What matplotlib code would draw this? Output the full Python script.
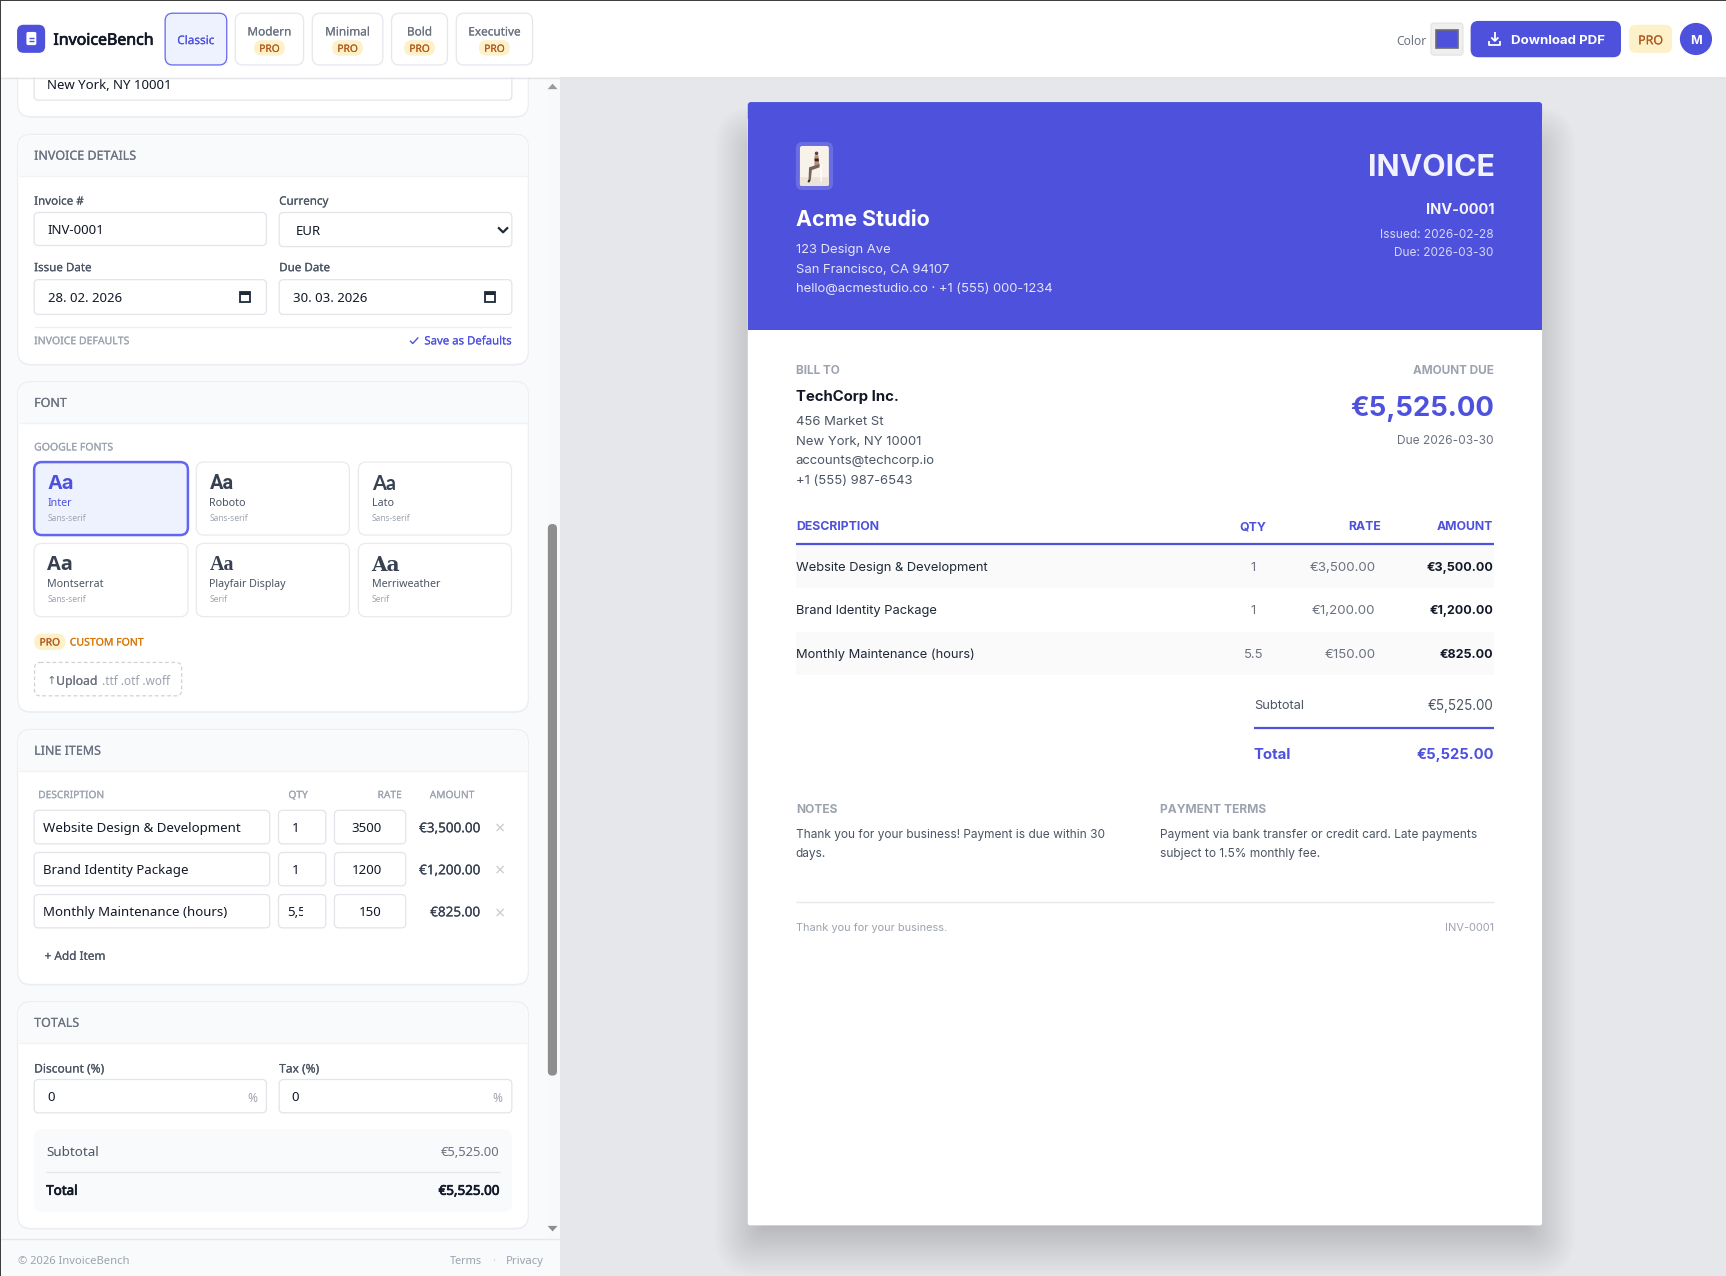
"""InvoiceBench editor screenshot redrawn with matplotlib patches and text."""

import matplotlib
matplotlib.use("Agg")
import matplotlib.pyplot as plt
import matplotlib.patheffects as pe
from matplotlib.patches import Circle, FancyBboxPatch, Polygon, Rectangle

W, H = 1568, 1159                      # layout coordinates of the page
INDIGO = "#4d51dc"
UI, DOC = "Noto Sans", "Inter"
UI_STROKE = {"medium": 0.1, "semibold": 0.3, "bold": 0.5}   # Noto Sans only has one weight here

TEMPLATES = ["Classic", "Modern", "Minimal", "Bold", "Executive"]
FONT_NAMES = ["Inter", "Roboto", "Lato", "Montserrat", "Playfair Display", "Merriweather"]
FONT_KINDS = ["Sans-serif", "Sans-serif", "Sans-serif", "Sans-serif", "Serif", "Serif"]
COLUMNS = ["DESCRIPTION", "QTY", "RATE", "AMOUNT"]
ITEM_NAMES = ["Website Design & Development", "Brand Identity Package", "Monthly Maintenance (hours)"]
ITEM_QTY = ["1", "1", "5.5"]
ITEM_QTY_INPUT = ["1", "1", "5,5"]
ITEM_RATE_INPUT = ["3500", "1200", "150"]
ITEM_RATE = ["€3,500.00", "€1,200.00", "€150.00"]
ITEM_AMOUNT = ["€3,500.00", "€1,200.00", "€825.00"]
SUBTOTAL = "€5,525.00"
TOTAL = "€5,525.00"
SENDER = ["123 Design Ave", "San Francisco, CA 94107", "hello@acmestudio.co · +1 (555) 000-1234"]
CLIENT = ["456 Market St", "New York, NY 10001", "accounts@techcorp.io", "+1 (555) 987-6543"]

fig = plt.figure(figsize=(17.26, 12.76), dpi=100)
ax = fig.add_axes([0, 0, 1, 1])
ax.set_xlim(0, W)
ax.set_ylim(H, 0)
ax.axis("off")


def box(x0, y0, x1, y1, fc="white", ec="none", r=0, lw=1, z=1, alpha=None, ls="-"):
    if r:
        p = FancyBboxPatch((x0 + r, y0 + r), x1 - x0 - 2 * r, y1 - y0 - 2 * r,
                           boxstyle=f"round,pad={r},rounding_size={r}",
                           fc=fc, ec=ec, lw=lw, zorder=z, alpha=alpha, ls=ls)
    else:
        p = Rectangle((x0, y0), x1 - x0, y1 - y0, fc=fc, ec=ec, lw=lw, zorder=z, alpha=alpha)
    ax.add_patch(p)
    return p


def txt(x, y, s, px=13, color="#111827", ha="left", weight="normal", family=UI, z=5):
    t = ax.text(x, y - 0.3, s, fontsize=px * 0.72, color=color, ha=ha, va="center_baseline",
                fontweight=weight, family=family, zorder=z)
    if family == UI and weight in UI_STROKE:
        t.set_path_effects([pe.withStroke(linewidth=UI_STROKE[weight], foreground=color)])
    return t


def line(xs, ys, color="#e5e7eb", lw=1, z=3):
    ax.plot(xs, ys, color=color, lw=lw, zorder=z, solid_capstyle="butt")


def field(x0, y0, x1, y1):
    box(x0, y0, x1, y1, ec="#e2e4e9", r=4, lw=0.9, z=3)


def pro_pill(cx, cy, w=28, h=14, px=10.5):
    box(cx - w / 2, cy - h / 2, cx + w / 2, cy + h / 2, fc="#fdf1c9", r=h / 2 - 0.01, z=4)
    txt(cx, cy, "PRO", px, "#b45a1c", ha="center", weight="medium")


def card(y0, y1, head_y, title):
    box(16, y0, 480, y1 + 1, fc="#eceef1", r=12, z=1)
    box(16, y0, 480, y1, fc="white", ec="#eceef1", lw=0.9, r=12, z=2)
    if head_y:
        box(17, y0 + 1, 479, y0 + 14, fc="#f9fafb", r=10, z=2)
        box(17, y0 + 10, 479, head_y, fc="#f9fafb", z=2)
        line([17, 479], [head_y, head_y], "#f1f2f4")
        txt(31, (y0 + head_y) / 2, title, 12.5, "#6b7280", weight="medium")


def calendar(cx, cy):
    box(cx - 4.5, cy - 4.5, cx + 4.5, cy + 5, fc="white", ec="#1f2937", lw=1.3, z=5)
    box(cx - 4.5, cy - 4.5, cx + 4.5, cy - 1.5, fc="#1f2937", z=5)


# page background, sidebar
ax.add_patch(Rectangle((0, 0), W, H, fc="#e5e7eb", ec="none", zorder=0))
box(1, 70, 509, H, fc="#f9fafb", z=0.5)
box(497, 70, 509, 1125, fc="#f8f9fa", z=0.6)

# top bar
box(0, 0, W, 70, z=8)
line([0, W], [70.5, 70.5], "#e2e4e8", 1, z=8)
line([0, W], [0.4, 0.4], "#3a3a3a", 1.4, z=9)
line([0.4, 0.4], [0, H], "#3a3a3a", 1.4, z=9)
box(15.5, 22.5, 41, 48, fc=INDIGO, r=6, z=9)
box(24, 29, 33, 41, fc="white", r=1.5, z=10)
line([26, 31], [34.5, 34.5], INDIGO, 1, z=11)
line([26, 31], [37.5, 37.5], INDIGO, 1, z=11)
txt(48.5, 35.5, "InvoiceBench", 15.9, "#111827", weight="bold", z=10)

BTN_X = [(150, 206), (213.7, 275.8), (283.7, 347.8), (355.7, 406.5), (414.5, 483.8)]
for i, (name, (x0, x1)) in enumerate(zip(TEMPLATES, BTN_X)):
    cx = (x0 + x1) / 2
    if i == 0:
        box(x0, 12, x1, 59, fc="#eef2ff", ec="#6366f1", lw=0.9, r=7, z=9)
        txt(cx, 35.8, name, 11.8, "#4f52de", ha="center", weight="medium", z=10)
    else:
        box(x0, 12, x1, 59, ec="#e5e7eb", lw=0.9, r=7, z=9)
        txt(cx, 28, name, 11.8, "#6b7280", ha="center", weight="medium", z=10)
        box(cx - 14, 36.5, cx + 14, 50.5, fc="#fdf1c9", r=6.9, z=10)
        txt(cx, 43.8, "PRO", 10.2, "#b45a1c", ha="center", weight="medium", z=11)

txt(1268, 36.3, "Color", 12, "#6b7280", z=10)
box(1300, 21, 1329, 50, fc="#efefef", ec="#e5e5e5", r=3, z=9)
box(1304.5, 27, 1324.5, 44, fc=INDIGO, ec="#6d6d6d", lw=1.2, z=10)
box(1336, 19, 1472.6, 52, fc=INDIGO, r=7, z=9)
line([1358, 1358], [29.5, 37], "white", 1.3, z=10)
line([1354.8, 1358, 1361.2], [34, 37.2, 34], "white", 1.3, z=10)
line([1353, 1353, 1363, 1363], [37.5, 40.5, 40.5, 37.5], "white", 1.3, z=10)
txt(1372.5, 35.8, "Download PDF", 13.2, "white", weight="bold", family=DOC, z=10)
box(1480, 22.5, 1519, 48, fc="#fdf1c9", r=6, z=9)
txt(1499.5, 36, "PRO", 12.4, "#b45a1c", ha="center", weight="medium", z=10)
ax.add_patch(Circle((1540.7, 35.4), 14.6, fc=INDIGO, ec="none", zorder=9))
txt(1540.7, 35.8, "M", 12.5, "white", ha="center", weight="bold", family=DOC, z=10)

# sidebar: address card (scrolled)
box(16, 40, 480, 107, fc="#eceef1", r=12, z=1)
box(16, 40, 480, 106, ec="#eceef1", lw=0.9, r=12, z=2)
box(31, 40, 465, 91, ec="#e2e4e9", lw=0.9, r=4, z=3)
txt(43, 76.5, "New York, NY 10001", 13.2)

# invoice details
card(122, 331, 159.6, "INVOICE DETAILS")
for x, s, y in [(31, "Invoice #", 182.6), (253.6, "Currency", 182.6), (31, "Issue Date", 243), (253.6, "Due Date", 243)]:
    txt(x, y, s, 11.6, "#4b5563", weight="medium")
field(31, 193, 242, 223)
field(253.6, 193, 465, 224)
field(31, 254, 242, 285.6)
field(253.6, 254, 465, 285.6)
txt(43, 208.3, "INV-0001", 13.2)
txt(268.5, 209, "EUR", 13.2)
line([452.5, 457, 461.5], [206.5, 211, 206.5], "#1f2937", 1.6, z=5)
txt(44, 270, "28. 02. 2026", 13.2)
txt(266, 270, "30. 03. 2026", 13.2)
calendar(222.5, 269.5)
calendar(445, 269.5)
line([31, 465], [297.4, 297.4], "#eef0f3")
txt(31, 309.3, "INVOICE DEFAULTS", 10.5, "#9ca3af", weight="medium")
txt(465, 309.5, "Save as Defaults", 11.4, "#4f52de", ha="right", weight="medium")
line([372.5, 375, 380], [309.5, 312, 306.5], INDIGO, 1, z=5)

# font picker
card(346.7, 646.5, 384, "FONT")
txt(31, 405.8, "GOOGLE FONTS", 10.5, "#9ca3af", weight="medium")
TILE_X = [(31, 170.7), (178.3, 317.4), (325.6, 464.7)]
TILE_Y = [(419.7, 486), (493.6, 560.2)]
AA_STYLE = [("Inter", "bold"), ("Roboto", "bold"), ("Lato", "bold"),
            ("Open Sans", "bold"), ("Liberation Serif", "bold"), ("DejaVu Serif", "bold")]
for i, (name, kind) in enumerate(zip(FONT_NAMES, FONT_KINDS)):
    x0, x1 = TILE_X[i % 3]
    y0, y1 = TILE_Y[i // 3]
    fam, wt = AA_STYLE[i]
    if i == 0:
        box(x0, y0, x1, y1, fc="#eef2ff", ec="#6366f1", lw=1.8, r=7, z=3)
    else:
        box(x0, y0, x1, y1, ec="#e8eaee", lw=0.9, r=7, z=3)
    tx = x0 + 12
    txt(tx, y0 + 18, "Aa", 20, INDIGO if i == 0 else "#374151", weight=wt, family=fam)
    txt(tx, y0 + 36.3, name, 10.7, INDIGO if i == 0 else "#4b5563")
    txt(tx, y0 + 50.3, kind, 8.4, "#9ca3af")
pro_pill(45.2, 583, 28.4, 15, 10.2)
txt(63.4, 583, "CUSTOM FONT", 10.5, "#d97706", weight="medium")
box(31.4, 601.7, 165, 632, ec="#cfd3d9", lw=0.9, r=5, ls=(0, (3, 2)), z=3)
txt(42.5, 617.8, "↑", 11.5, "#6b7280", family=[UI, "DejaVu Sans"])
txt(51, 617.8, "Upload", 12.2, "#6b7280", weight="medium")
txt(92.5, 617.8, ".ttf .otf .woff", 11.7, "#9ca3af")

# line items
card(662.6, 894.2, 700, "LINE ITEMS")
txt(34.7, 721.6, COLUMNS[0], 10.2, "#9ca3af", weight="medium")
txt(262, 721.6, COLUMNS[1], 10.2, "#9ca3af", weight="medium")
txt(365, 721.6, COLUMNS[2], 10.2, "#9ca3af", ha="right", weight="medium")
txt(390.4, 721.6, COLUMNS[3], 10.2, "#9ca3af", weight="medium")
ROW_Y = [(736, 766.5), (774.3, 804.6), (812.5, 842.8)]
for i, (y0, y1) in enumerate(ROW_Y):
    cy = (y0 + y1) / 2
    field(31, y0, 245, y1)
    field(253, y0, 296, y1)
    field(303.8, y0, 368.6, y1)
    txt(39.3, cy, ITEM_NAMES[i], 13.25)
    q = txt(265 if i < 2 else 261, cy, ITEM_QTY_INPUT[i], 13.25)
    q.set_clip_on(True)
    q.set_clip_path(Rectangle((255, y0), 20, y1 - y0, transform=ax.transData))
    txt(347, cy, ITEM_RATE_INPUT[i], 13.25, ha="right")
    txt(436, cy, ITEM_AMOUNT[i], 13.5, "#374151", ha="right", weight="medium")
    txt(454, cy + 1, "×", 18, "#c9ccd2", ha="center")
txt(40.5, 867.6, "+ Add Item", 11.8, "#4b5563", weight="medium")

# totals
card(909.9, 1115.8, 947, "TOTALS")
txt(31, 970, "Discount (%)", 12, "#4b5563", weight="medium")
txt(253.6, 970, "Tax (%)", 12, "#4b5563", weight="medium")
field(31, 980.5, 242, 1010.8)
field(253.6, 980.5, 465, 1010.8)
txt(42.6, 996, "0", 13.2)
txt(265, 996, "0", 13.2)
txt(233.5, 997, "%", 12, "#9ca3af", ha="right")
txt(456, 997, "%", 12, "#9ca3af", ha="right")
box(31, 1025.6, 465, 1100.7, fc="#f9fafb", r=8, z=3)
txt(42, 1045.8, "Subtotal", 13.4, "#4b5563")
txt(454, 1045.8, SUBTOTAL, 13, "#6b7280", ha="right")
line([42, 454], [1064.4, 1064.4], "#e5e7eb", z=4)
txt(42, 1081, "Total", 13.4, "#111827", weight="bold")
txt(454, 1081, TOTAL, 13.4, "#111827", ha="right", weight="bold")

# scrollbar and footer
box(497.7, 476, 506, 977, fc="#8e8e8e", r=4, z=6)
ax.add_patch(Polygon([(497.5, 81), (506.5, 81), (502, 76)], fc="#9a9a9a", ec="none", zorder=6))
ax.add_patch(Polygon([(497.5, 1113.5), (506.5, 1113.5), (502, 1118.5)], fc="#8e8e8e", ec="none", zorder=6))
box(1, 1125, 509, H, fc="#f9fafb", z=7)
line([1, 509], [1125, 1125], "#e5e7eb", z=8)
txt(16, 1144.6, "© 2026 InvoiceBench", 11.2, "#9ca3af", z=9)
txt(408.5, 1144.6, "Terms", 11, "#9ca3af", z=9)
txt(448.5, 1144.6, "·", 12, "#d1d5db", ha="center", z=9)
txt(494, 1144.6, "Privacy", 11.3, "#9ca3af", ha="right", z=9)

# invoice paper with soft shadow
for grow in range(46, 0, -2):
    box(679.3 - (grow - 16), 92.7 + 50 - grow, 1400.9 + (grow - 16), 1113 + grow,
        fc="black", r=max(grow * 0.8, 1), alpha=0.0075, z=0.8)
box(679.3, 92.7, 1400.9, 1113, fc="white", r=2, z=1)
box(679.3, 92.7, 1400.9, 110, fc=INDIGO, r=3, z=1.2)
box(679.3, 100, 1400.9, 299.8, fc=INDIGO, z=1.2)

# logo photo
box(723, 129, 756.8, 172.6, fc="#6a6ce3", r=6, z=2)
box(726.7, 132.6, 753, 168.8, fc="#f7f2ea", r=2, z=3)
box(726.7, 161, 753, 168.8, fc="#ece4d8", r=1, z=3.1)
line([745.5, 746, 746], [150, 156, 165], "#ffffff", 1, z=3.5)
ax.add_patch(Circle((741.8, 139.3), 1.6, fc="#5a4236", ec="none", zorder=4))
ax.add_patch(Polygon([(740, 141), (743.5, 141), (744.5, 151), (739.8, 151)], fc="#b8917c", ec="none", zorder=4))
ax.add_patch(Polygon([(740, 144), (743.7, 144), (743.8, 146.5), (740.2, 146.5)], fc="#2b2320", ec="none", zorder=4.1))
ax.add_patch(Polygon([(744.5, 149), (744.5, 152), (737.5, 154.5), (736.5, 164), (734.5, 164), (735, 152)],
                     fc="#75635a", ec="none", zorder=4))
line([735.5, 734.3], [163.5, 165.5], "#2a2321", 1.4, z=4)

txt(723, 198.4, "Acme Studio", 21.4, "white", weight="bold", family=DOC)
for y, s in zip([226, 243.8, 261.4], SENDER):
    txt(723, y, s, 13.05, "#e4e5fa", family=DOC)
txt(1358, 150, "INVOICE", 30.4, "#f2f2fd", ha="right", weight="bold", family=DOC)
txt(1357.5, 189.9, "INV-0001", 14.6, "#f6f6fe", ha="right", weight="bold", family=DOC)
txt(1357, 212.3, "Issued: 2026-02-28", 11.9, "#d5d6f7", ha="right", family=DOC)
txt(1357, 228.6, "Due: 2026-03-30", 11.9, "#d5d6f7", ha="right", family=DOC)

txt(723, 335.5, "BILL TO", 11.8, "#9ca3af", weight="bold", family=DOC)
txt(1356.8, 335.5, "AMOUNT DUE", 11.8, "#9ca3af", ha="right", weight="bold", family=DOC)
txt(723, 359.8, "TechCorp Inc.", 14.9, "#111827", weight="bold", family=DOC)
for y, s in zip([382, 400.4, 418, 435.5], CLIENT):
    txt(723, y, s, 13.1, "#4b5563", family=DOC)
txt(1357, 368.9, TOTAL, 27.5, INDIGO, ha="right", weight="bold", family=DOC)
txt(1357, 399.8, "Due 2026-03-30", 11.95, "#6b7280", ha="right", family=DOC)

txt(723.6, 477.8, COLUMNS[0], 12.3, INDIGO, weight="bold", family=DOC)
txt(1138.5, 477.8, COLUMNS[1], 12.3, INDIGO, ha="center", weight="bold", family=DOC)
txt(1255, 477.8, COLUMNS[2], 12.3, INDIGO, ha="right", weight="bold", family=DOC)
txt(1356, 477.8, COLUMNS[3], 12.3, INDIGO, ha="right", weight="bold", family=DOC)
line([723, 1357], [493.9, 493.9], INDIGO, 1.6)
box(723, 495, 1357, 533.8, fc="#fafafa", z=2)
box(723, 574.4, 1357, 613.2, fc="#fafafa", z=2)
for y, name, qty, rate, amt in zip([514.5, 553.8, 593.5], ITEM_NAMES, ITEM_QTY, ITEM_RATE, ITEM_AMOUNT):
    txt(723, y, name, 12.9, "#1f2937", family=DOC)
    txt(1138.5, y, qty, 13, "#6b7280", ha="center", family=DOC)
    txt(1249.5, y, rate, 13.3, "#6b7280", ha="right", family=DOC)
    txt(1357, y, amt, 12.5, "#111827", ha="right", weight="bold", family=DOC)
txt(1139, 639.8, "Subtotal", 12.9, "#4b5563", family=DOC)
txt(1357, 639.8, SUBTOTAL, 13.4, "#4b5563", ha="right", family=DOC)
line([1139, 1357], [661.3, 661.3], INDIGO, 1.6)
txt(1139, 684.7, "Total", 15, INDIGO, weight="bold", family=DOC)
txt(1357, 684.7, TOTAL, 14.8, INDIGO, ha="right", weight="bold", family=DOC)

txt(723, 734.6, "NOTES", 12, "#9ca3af", weight="bold", family=DOC)
txt(1054, 734.6, "PAYMENT TERMS", 12, "#9ca3af", weight="bold", family=DOC)
txt(723, 757.4, "Thank you for your business! Payment is due within 30", 11.9, "#4b5563", family=DOC)
txt(723, 774.9, "days.", 11.9, "#4b5563", family=DOC)
txt(1054, 757.4, "Payment via bank transfer or credit card. Late payments", 11.95, "#4b5563", family=DOC)
txt(1054, 774.9, "subject to 1.5% monthly fee.", 11.95, "#4b5563", family=DOC)
line([723, 1357], [819.7, 819.7], "#e5e7eb")
txt(723, 842.2, "Thank you for your business.", 11, "#9ca3af", family=DOC)
txt(1357, 842.2, "INV-0001", 11, "#9ca3af", ha="right", family=DOC)

fig.savefig("out.png", dpi=100)
